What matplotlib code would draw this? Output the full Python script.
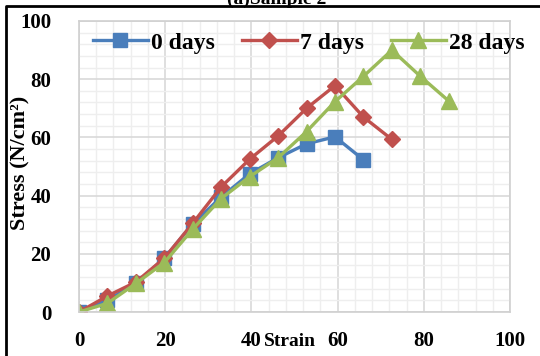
import numpy as np
import matplotlib.pyplot as plt
from matplotlib.lines import Line2D
from matplotlib.ticker import MultipleLocator

strain = [0, 6.6, 13.2, 19.8, 26.4, 33, 39.6, 46.2, 52.8, 59.4, 66, 72.6, 79.2, 85.8]
stress_0 = [0, 4, 9.8, 18.5, 30.3, 39.5, 47.5, 53, 57.8, 60.2, 52.3]
stress_7 = [0, 5.5, 10.3, 18.5, 30.5, 43, 52.5, 60.5, 70, 77.8, 67, 59.3]
stress_28 = [0, 3, 9.8, 17, 28.5, 39, 46.5, 53, 62, 72.3, 81, 90, 81, 72.5]
labels = ['0 days', '7 days', '28 days']

plt.rcParams['font.family'] = ['Liberation Serif', 'DejaVu Serif']
plt.rcParams['font.weight'] = 'bold'

fig = plt.figure(figsize=(5.4, 3.56), dpi=100)
ax = fig.add_axes([79/540, 44/356, 431/540, 291/356])

ax.plot(strain[:len(stress_0)], stress_0, color='#4a7ebb', lw=2.4,
        marker='s', ms=10, label=labels[0])
ax.plot(strain[:len(stress_7)], stress_7, color='#c0504d', lw=2.4,
        marker='D', ms=8, label=labels[1])
ax.plot(strain[:len(stress_28)], stress_28, color='#9bbb59', lw=2.4,
        marker='^', ms=11, label=labels[2])

ax.set_xlim(0, 100)
ax.set_ylim(0, 100)
ax.xaxis.set_major_locator(MultipleLocator(20))
ax.yaxis.set_major_locator(MultipleLocator(20))
ax.xaxis.set_minor_locator(MultipleLocator(4))
ax.yaxis.set_minor_locator(MultipleLocator(4))
ax.grid(which='major', color='#d9d9d9', lw=1.2)
ax.grid(which='minor', color='#eeeeee', lw=1.0)
ax.set_axisbelow(True)
for s in ax.spines.values():
    s.set_color('#d0d0d0')
    s.set_linewidth(1.2)
ax.tick_params(which='both', length=0, labelsize=15)
ax.tick_params(axis='x', pad=14)
ax.tick_params(axis='y', pad=20)
for t in ax.get_xticklabels() + ax.get_yticklabels():
    t.set_fontweight('bold')

fig.text(20/540, 1 - 163/356, 'Stress (N/cm²)', fontsize=16, fontweight='bold',
         rotation=90, ha='center', va='center')
fig.text(290/540, 1 - 341/356, 'Strain', fontsize=14, fontweight='bold',
         ha='center', va='center')

fig.legend(loc='center', ncol=3, frameon=False,
           bbox_to_anchor=(309/540, 1 - 43/356), handlelength=2.3,
           handletextpad=0.15, columnspacing=1.15, prop={'weight': 'bold', 'size': 17})

fig.text(277/540, 1 - 4/356, '(a)Sample 2', fontsize=14, fontweight='bold',
         ha='center', va='baseline')
fig.add_artist(Line2D([6/540, 6/540, 1.0], [0, 1 - 6/356, 1 - 6/356],
                      transform=fig.transFigure, color='black', lw=2))

fig.savefig('out.png', dpi=100)
